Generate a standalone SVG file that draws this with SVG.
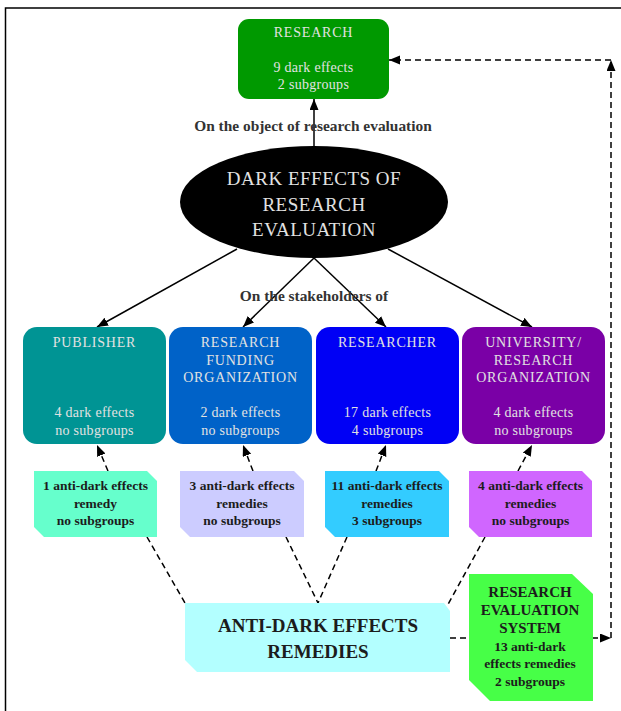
<svg xmlns="http://www.w3.org/2000/svg" width="621" height="711" viewBox="0 0 621 711">
<defs>
<marker id="ah" markerUnits="userSpaceOnUse" markerWidth="12" markerHeight="10" refX="11" refY="4.5" orient="auto">
<path d="M0,0 L11,4.5 L0,9 z" fill="#000"/>
</marker>
<style>
.lt{font-family:"Liberation Serif","DejaVu Serif",serif;fill:#e2e2e2;text-anchor:middle}
.cap{font-size:14px;letter-spacing:0.8px}
.low{font-size:14px;letter-spacing:0.3px}
.dk{font-family:"Liberation Serif","DejaVu Serif",serif;font-weight:bold;fill:#1c1c1c;text-anchor:middle}
.sm{font-size:13.5px}
.lbl{font-family:"Liberation Serif","DejaVu Serif",serif;font-weight:bold;fill:#333;text-anchor:middle;font-size:15.4px}
.solid{stroke:#000;stroke-width:1.5;fill:none}
.dash{stroke:#000;stroke-width:1.5;fill:none;stroke-dasharray:6,4}
</style>
</defs>
<rect width="621" height="711" fill="#fff"/>
<path d="M5.5,711 V8 H621" stroke="#000" stroke-width="1.5" fill="none"/>

<g id="connectors">
<line class="solid" x1="314" y1="146" x2="314" y2="99" marker-end="url(#ah)"/>
<line class="solid" x1="237" y1="249" x2="97" y2="327" marker-end="url(#ah)"/>
<line class="solid" x1="314" y1="258" x2="243" y2="327" marker-end="url(#ah)"/>
<line class="solid" x1="314" y1="258" x2="386" y2="327" marker-end="url(#ah)"/>
<line class="solid" x1="388" y1="249" x2="532" y2="327" marker-end="url(#ah)"/>
<line class="dash" x1="108" y1="471" x2="97" y2="445" marker-end="url(#ah)"/>
<line class="dash" x1="253" y1="471" x2="243" y2="445" marker-end="url(#ah)"/>
<line class="dash" x1="376" y1="471" x2="386" y2="445" marker-end="url(#ah)"/>
<line class="dash" x1="518" y1="471" x2="532" y2="445" marker-end="url(#ah)"/>
<line class="dash" x1="147" y1="537" x2="185" y2="603"/>
<line class="dash" x1="286" y1="537" x2="318" y2="603"/>
<line class="dash" x1="347" y1="537" x2="318" y2="603"/>
<line class="dash" x1="485" y1="537" x2="446" y2="608"/>
<line class="dash" x1="450" y1="638" x2="468" y2="638"/>
<line class="dash" x1="592" y1="638" x2="611" y2="638" marker-end="url(#ah)"/>
<line class="dash" x1="611" y1="638" x2="611" y2="60" marker-end="url(#ah)"/>
<line class="dash" x1="611" y1="60" x2="389" y2="60" marker-end="url(#ah)"/>
</g>

<g id="research">
<rect x="238" y="19" width="151" height="80" rx="11" fill="#009900"/>
<text class="lt cap" x="313.5" y="37">RESEARCH</text>
<text class="lt low" x="313.5" y="72">9 dark effects</text>
<text class="lt low" x="313.5" y="89">2 subgroups</text>
</g>

<text class="lbl" x="313" y="131">On the object of research evaluation</text>

<g id="dark-effects">
<ellipse cx="314" cy="202" rx="134" ry="56" fill="#000"/>
<text class="lt" style="font-size:19px;letter-spacing:0.5px" x="314" y="185">DARK EFFECTS OF</text>
<text class="lt" style="font-size:19px;letter-spacing:0.5px" x="314" y="211">RESEARCH</text>
<text class="lt" style="font-size:19px;letter-spacing:0.5px" x="314" y="236">EVALUATION</text>
</g>

<text class="lbl" x="314" y="301">On the stakeholders of</text>

<g id="publisher">
<rect x="23" y="327" width="143" height="117" rx="14" fill="#009494"/>
<text class="lt cap" x="94.5" y="347">PUBLISHER</text>
<text class="lt low" x="94.5" y="417">4 dark effects</text>
<text class="lt low" x="94.5" y="435">no subgroups</text>
</g>

<g id="funding">
<rect x="169" y="327" width="143" height="117" rx="14" fill="#0062c8"/>
<text class="lt cap" x="240.5" y="347">RESEARCH</text>
<text class="lt cap" x="240.5" y="365">FUNDING</text>
<text class="lt cap" x="240.5" y="382">ORGANIZATION</text>
<text class="lt low" x="240.5" y="417">2 dark effects</text>
<text class="lt low" x="240.5" y="435">no subgroups</text>
</g>

<g id="researcher">
<rect x="316" y="327" width="143" height="117" rx="14" fill="#0000f5"/>
<text class="lt cap" x="387.5" y="347">RESEARCHER</text>
<text class="lt low" x="387.5" y="417">17 dark effects</text>
<text class="lt low" x="387.5" y="435">4 subgroups</text>
</g>

<g id="university">
<rect x="462" y="327" width="143" height="117" rx="14" fill="#7a00a6"/>
<text class="lt cap" x="533.5" y="347">UNIVERSITY/</text>
<text class="lt cap" x="533.5" y="365">RESEARCH</text>
<text class="lt cap" x="533.5" y="382">ORGANIZATION</text>
<text class="lt low" x="533.5" y="417">4 dark effects</text>
<text class="lt low" x="533.5" y="435">no subgroups</text>
</g>

<g id="remedy-publisher">
<path d="M34,471 H147 L157,481 V537 H44 L34,527 z" fill="#66ffcc"/>
<text class="dk sm" x="95.5" y="490">1 anti-dark effects</text>
<text class="dk sm" x="95.5" y="508">remedy</text>
<text class="dk sm" x="95.5" y="525">no subgroups</text>
</g>

<g id="remedy-funding">
<path d="M180,471 H294 L304,481 V537 H190 L180,527 z" fill="#ccccff"/>
<text class="dk sm" x="242" y="490">3 anti-dark effects</text>
<text class="dk sm" x="242" y="508">remedies</text>
<text class="dk sm" x="242" y="525">no subgroups</text>
</g>

<g id="remedy-researcher">
<path d="M325,471 H439 L449,481 V537 H335 L325,527 z" fill="#33ccff"/>
<text class="dk sm" x="387" y="490">11 anti-dark effects</text>
<text class="dk sm" x="387" y="508">remedies</text>
<text class="dk sm" x="387" y="525">3 subgroups</text>
</g>

<g id="remedy-university">
<path d="M469,471 H582 L592,481 V537 H479 L469,527 z" fill="#d066ff"/>
<text class="dk sm" x="530.5" y="490">4 anti-dark effects</text>
<text class="dk sm" x="530.5" y="508">remedies</text>
<text class="dk sm" x="530.5" y="525">no subgroups</text>
</g>

<g id="anti-dark-remedies">
<path d="M185,603 H444 L450,611 V672 H197 L185,660 z" fill="#b3ffff"/>
<text class="dk" style="font-size:19px" x="318" y="632">ANTI-DARK EFFECTS</text>
<text class="dk" style="font-size:19px" x="318" y="658">REMEDIES</text>
</g>

<g id="evaluation-system">
<path d="M469,574 H572 L593,594 V701 H490 L469,680 z" fill="#47ff47"/>
<text class="dk" style="font-size:15px" x="530" y="597">RESEARCH</text>
<text class="dk" style="font-size:15px" x="530" y="615">EVALUATION</text>
<text class="dk" style="font-size:15px" x="530" y="633">SYSTEM</text>
<text class="dk" style="font-size:13.5px" x="530" y="651">13 anti-dark</text>
<text class="dk" style="font-size:13.5px" x="530" y="668">effects remedies</text>
<text class="dk" style="font-size:13.5px" x="530" y="686">2 subgroups</text>
</g>
</svg>
